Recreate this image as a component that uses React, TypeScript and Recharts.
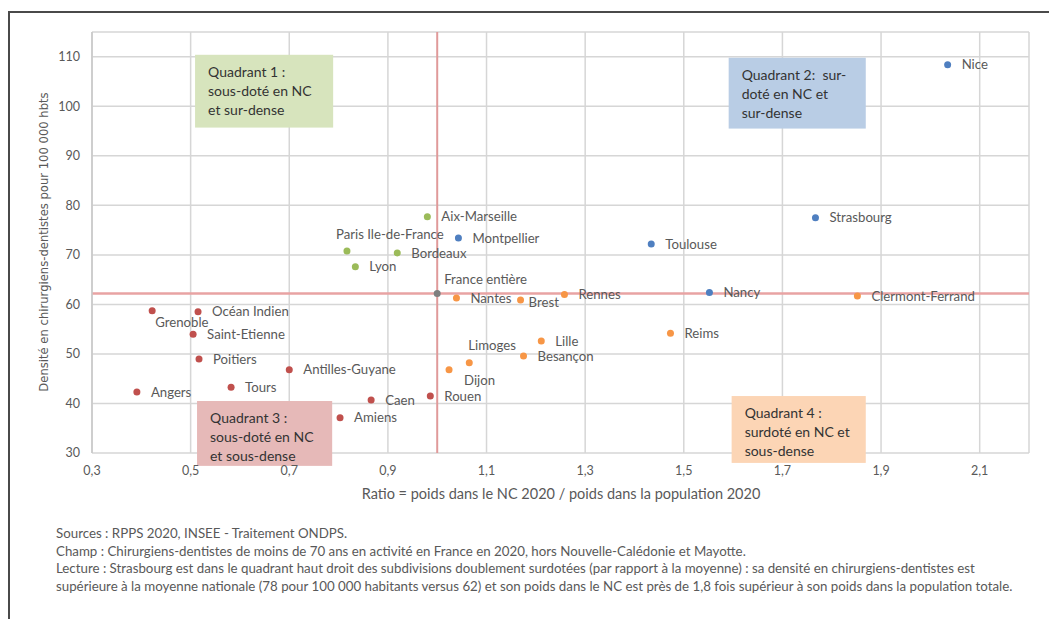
import { ScatterChart, Scatter, XAxis, YAxis, CartesianGrid, ReferenceLine, ReferenceArea } from 'recharts';

// Quadrant 1 (green)
const greenNames = ['Aix-Marseille', 'Paris Ile-de-France', 'Bordeaux', 'Lyon'];
const greenRatio = [0.98, 0.817, 0.919, 0.834];
const greenDensity = [77.7, 70.8, 70.4, 67.6];

// Quadrant 2 (blue)
const blueNames = ['Nice', 'Strasbourg', 'Toulouse', 'Montpellier', 'Nancy'];
const blueRatio = [2.035, 1.767, 1.434, 1.043, 1.552];
const blueDensity = [108.4, 77.5, 72.2, 73.4, 62.4];

// Quadrant 3 (red)
const redNames = ['Rouen', 'Caen', 'Amiens', 'Antilles-Guyane', 'Tours', 'Angers', 'Poitiers', 'Saint-Etienne', 'Grenoble', 'Océan Indien'];
const redRatio = [0.986, 0.866, 0.803, 0.7, 0.582, 0.391, 0.517, 0.505, 0.422, 0.515];
const redDensity = [41.5, 40.7, 37.1, 46.8, 43.3, 42.3, 49.0, 54.0, 58.7, 58.5];

// Quadrant 4 (orange)
const orangeNames = ['Clermont-Ferrand', 'Nantes', 'Brest', 'Rennes', 'Reims', 'Lille', 'Besançon', 'Limoges', 'Dijon'];
const orangeRatio = [1.852, 1.039, 1.169, 1.258, 1.473, 1.211, 1.175, 1.065, 1.024];
const orangeDensity = [61.7, 61.3, 60.9, 62.0, 54.2, 52.6, 49.6, 48.2, 46.8];

const franceNames = ['France entière'];
const franceRatio = [1.0];
const franceDensity = [62.2];

const xTicks = [0.3, 0.5, 0.7, 0.9, 1.1, 1.3, 1.5, 1.7, 1.9, 2.1];
const yTicks = [30, 40, 50, 60, 70, 80, 90, 100, 110];

const toPoints = (names: string[], xs: number[], ys: number[]) =>
  names.map((name, i) => ({ name, x: xs[i], y: ys[i] }));

const FONT = 'Lato, "Open Sans", sans-serif';
const GREY = '#595959';

// label offsets (px) for the few labels that are not simply to the right of the point
const labelOffsets: Record<string, { dx: number; dy: number }> = {
  'Paris Ile-de-France': { dx: -11, dy: -17 },
  'France entière': { dx: 7, dy: -14 },
  Limoges: { dx: -1, dy: -17 },
  Dijon: { dx: 15, dy: 11 },
  Grenoble: { dx: 3, dy: 12 },
  Brest: { dx: 8, dy: 2 },
};

const makeShape = (color: string) => (props: any) => {
  const { cx, cy, payload } = props;
  const off = labelOffsets[payload.name] ?? { dx: 14, dy: 0 };
  return (
    <g>
      <circle cx={cx} cy={cy} r={3.5} fill={color} />
      <text x={cx + off.dx} y={cy + off.dy} dy="0.35em" fontSize={13.2} fill={GREY} fontFamily={FONT}>
        {payload.name}
      </text>
    </g>
  );
};

const quadrants = [
  { x1: 0.509, x2: 0.789, y1: 95.7, y2: 110.4, fill: '#d7e4bd', lines: ['Quadrant 1 :', 'sous-doté en NC', 'et sur-dense'] },
  { x1: 1.591, x2: 1.869, y1: 95.5, y2: 109.8, fill: '#b9cde5', lines: ['Quadrant 2:  sur-', 'doté en NC et', 'sur-dense'] },
  { x1: 0.513, x2: 0.787, y1: 27.4, y2: 40.5, fill: '#e6b9b8', lines: ['Quadrant 3 :', 'sous-doté en NC', 'et sous-dense'] },
  { x1: 1.597, x2: 1.869, y1: 28.0, y2: 41.5, fill: '#fcd5b5', lines: ['Quadrant 4 :', 'surdoté en NC et', 'sous-dense'] },
];

const quadShape = (fill: string, lines: string[]) => (props: any) => {
  const { x, y, width, height } = props;
  return (
    <g>
      <rect x={x} y={y} width={width} height={height} fill={fill} />
      {lines.map((l, i) => (
        <text key={i} x={x + 13} y={y + 17 + i * 19} dy="0.35em" fontSize={14} fill="#333" fontFamily={FONT} style={{ whiteSpace: 'pre' }}>
          {l}
        </text>
      ))}
    </g>
  );
};

const fmtX = (v: number) => v.toFixed(1).replace('.', ',');

export default function App() {
  return (
    <div style={{ position: 'relative', width: 1049, height: 611, overflow: 'hidden', fontFamily: FONT }}>
      <div style={{ position: 'absolute', left: 0, top: 3, width: 1100, height: 700, borderTop: '2px solid #4a4a4a', borderLeft: '2px solid #4a4a4a' }} />
      <div style={{ position: 'absolute', left: 0, top: 0 }}>
        <ScatterChart width={1049} height={480} margin={{ top: 24, right: 28, bottom: 5, left: 0 }}>
          <CartesianGrid stroke="#d6d6d6" strokeWidth={1.5} />
          <XAxis
            type="number"
            dataKey="x"
            domain={[0.3, 2.2]}
            ticks={xTicks}
            tickFormatter={fmtX}
            tickLine={false}
            tickMargin={7}
            height={30}
            axisLine={false}
            tick={{ fill: GREY, fontSize: 12.5, fontFamily: FONT }}
          />
          <YAxis
            type="number"
            dataKey="y"
            domain={[30, 115]}
            ticks={yTicks}
            tickLine={false}
            tickMargin={6}
            width={84}
            axisLine={{ stroke: '#c8c8c8', strokeWidth: 1.5 }}
            tick={{ fill: GREY, fontSize: 12.5, fontFamily: FONT }}
          />
          {quadrants.map((q, i) => (
            <ReferenceArea key={i} x1={q.x1} x2={q.x2} y1={q.y1} y2={q.y2} ifOverflow="visible" shape={quadShape(q.fill, q.lines)} />
          ))}
          <ReferenceLine x={1} stroke="#e09a9a" strokeWidth={2} />
          <ReferenceLine y={62.2} stroke="#e8a3a3" strokeWidth={2.5} />
          <Scatter data={toPoints(greenNames, greenRatio, greenDensity)} fill="#9bbb59" shape={makeShape('#9bbb59')} isAnimationActive={false} />
          <Scatter data={toPoints(blueNames, blueRatio, blueDensity)} fill="#4f7fc0" shape={makeShape('#4f7fc0')} isAnimationActive={false} />
          <Scatter data={toPoints(redNames, redRatio, redDensity)} fill="#c0504d" shape={makeShape('#c0504d')} isAnimationActive={false} />
          <Scatter data={toPoints(orangeNames, orangeRatio, orangeDensity)} fill="#f79646" shape={makeShape('#f79646')} isAnimationActive={false} />
          <Scatter data={toPoints(franceNames, franceRatio, franceDensity)} fill="#7f7f7f" shape={makeShape('#7f7f7f')} isAnimationActive={false} />
        </ScatterChart>
      </div>
      <div
        style={{
          position: 'absolute',
          left: 36,
          top: 234,
          transform: 'translate(-50%, -50%) rotate(-90deg)',
          whiteSpace: 'nowrap',
          fontFamily: '"DejaVu Sans", sans-serif',
          fontSize: 11.6,
          color: GREY,
        }}
      >
        Densité en chirurgiens-dentistes pour 100 000 hbts
      </div>
      <div style={{ position: 'absolute', left: 553, top: 485, transform: 'translate(-50%, -50%)', whiteSpace: 'nowrap', fontSize: 14.5, color: GREY }}>
        Ratio = poids dans le NC 2020 / poids dans la population 2020
      </div>
      <div style={{ position: 'absolute', left: 48, top: 517, fontSize: 13.3, lineHeight: '17.6px', color: GREY, whiteSpace: 'nowrap' }}>
        <div>Sources : RPPS 2020, INSEE - Traitement ONDPS.</div>
        <div>Champ : Chirurgiens-dentistes de moins de 70 ans en activité en France en 2020, hors Nouvelle-Calédonie et Mayotte.</div>
        <div>Lecture : Strasbourg est dans le quadrant haut droit des subdivisions doublement surdotées (par rapport à la moyenne) : sa densité en chirurgiens-dentistes est</div>
        <div>supérieure à la moyenne nationale (78 pour 100 000 habitants versus 62) et son poids dans le NC est près de 1,8 fois supérieur à son poids dans la population totale.</div>
      </div>
    </div>
  );
}
